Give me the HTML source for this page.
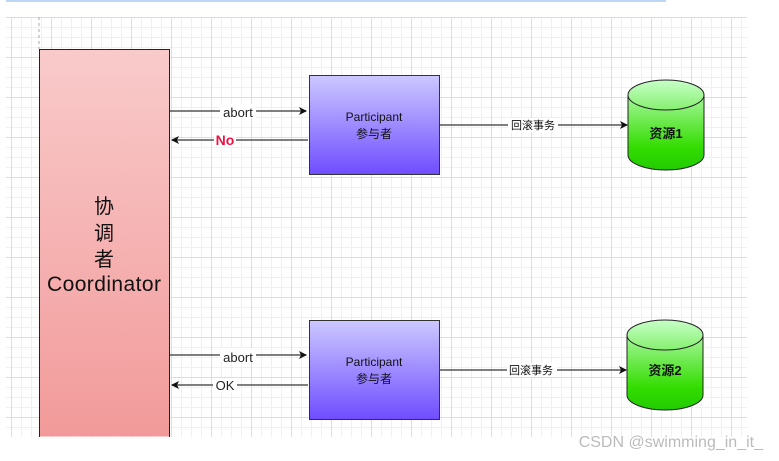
<!DOCTYPE html>
<html><head><meta charset="utf-8"><style>
body{margin:0;width:779px;height:461px;background:#fff;overflow:hidden;position:relative;font-family:"Liberation Sans","Noto Sans CJK SC",sans-serif}
.grid{position:absolute;left:6px;top:17px;width:741px;height:420px;
background-image:linear-gradient(#dedede 1px,transparent 1px),linear-gradient(90deg,#dedede 1px,transparent 1px),linear-gradient(#f0f0f0 1px,transparent 1px),linear-gradient(90deg,#f0f0f0 1px,transparent 1px);
background-size:40px 40px,40px 40px,10px 10px,10px 10px;background-position:5px 0,5px 0,5px 0,5px 0}
</style></head><body>
<div style="position:absolute;left:6px;top:0;width:660px;height:2px;background:#bcd6f5"></div>
<div class="grid"></div>
<svg width="779" height="461" style="position:absolute;left:0;top:0">
<defs>
<linearGradient id="r" x1="0" y1="0" x2="0" y2="1"><stop offset="0" stop-color="#f9caca"/><stop offset="1" stop-color="#f29a9a"/></linearGradient>
<linearGradient id="p" x1="0" y1="0" x2="0" y2="1"><stop offset="0" stop-color="#ccc8ff"/><stop offset="1" stop-color="#6f4dff"/></linearGradient>
<linearGradient id="g" x1="0" y1="0" x2="0" y2="1"><stop offset="0" stop-color="#c8ffc8"/><stop offset="0.75" stop-color="#33dd00"/><stop offset="1" stop-color="#22cc00"/></linearGradient>
<marker id="a" markerWidth="8" markerHeight="8" refX="7" refY="4" orient="auto" markerUnits="userSpaceOnUse"><path d="M0,0 L8,4 L0,8 L2,4z" fill="#111"/></marker>
</defs>
<line x1="39" y1="17" x2="39" y2="49" stroke="#aaa" stroke-dasharray="3,3"/>
<rect x="39.5" y="49.5" width="130" height="387" fill="url(#r)"/>
<path d="M39.5,437 L39.5,49.5 L169.5,49.5 L169.5,437" fill="none" stroke="#222"/>
<text x="104" y="213" font-size="20" text-anchor="middle" fill="#111">协</text>
<text x="104" y="240" font-size="20" text-anchor="middle" fill="#111">调</text>
<text x="104" y="266" font-size="20" text-anchor="middle" fill="#111">者</text>
<text x="104" y="291" font-size="21" text-anchor="middle" fill="#111" textLength="114">Coordinator</text>
<g stroke="#555" stroke-width="1.5" fill="none">
<line x1="170" y1="111" x2="306" y2="111" marker-end="url(#a)"/>
<line x1="308" y1="140" x2="172" y2="140" marker-end="url(#a)"/>
<line x1="170" y1="355" x2="306" y2="355" marker-end="url(#a)"/>
<line x1="308" y1="385" x2="172" y2="385" marker-end="url(#a)"/>
<line x1="440" y1="125" x2="627" y2="125" marker-end="url(#a)"/>
<line x1="440" y1="370" x2="626" y2="370" marker-end="url(#a)"/>
</g>
<rect x="220" y="104" width="36" height="14" fill="#fff"/>
<text x="238" y="117" font-size="13" text-anchor="middle" fill="#222">abort</text>
<rect x="214" y="133" width="22" height="14" fill="#fff"/>
<text x="225" y="145" font-size="14" font-weight="bold" text-anchor="middle" fill="#ee1144">No</text>
<rect x="220" y="348" width="36" height="14" fill="#fff"/>
<text x="238" y="362" font-size="13" text-anchor="middle" fill="#222">abort</text>
<rect x="213" y="378" width="24" height="14" fill="#fff"/>
<text x="225" y="390" font-size="13" text-anchor="middle" fill="#222">OK</text>
<rect x="508" y="118" width="50" height="14" fill="#fff"/>
<text x="533" y="129" font-size="11" text-anchor="middle" fill="#111">回滚事务</text>
<rect x="507" y="363" width="50" height="14" fill="#fff"/>
<text x="531" y="374" font-size="11" text-anchor="middle" fill="#111">回滚事务</text>
<rect x="309.5" y="75.5" width="130" height="99" fill="url(#p)" stroke="#333"/>
<text x="374" y="121" font-size="12" text-anchor="middle" fill="#111">Participant</text>
<text x="374" y="138" font-size="12" text-anchor="middle" fill="#111">参与者</text>
<rect x="309.5" y="320.5" width="130" height="99" fill="url(#p)" stroke="#333"/>
<text x="374" y="366" font-size="12" text-anchor="middle" fill="#111">Participant</text>
<text x="374" y="383" font-size="12" text-anchor="middle" fill="#111">参与者</text>
<g stroke="#222" stroke-width="1">
<path d="M628,95 L628,155 A38,15 0 0 0 704,155 L704,95 A38,15 0 0 0 628,95z" fill="url(#g)"/>
<path d="M628,95 A38,15 0 0 0 704,95" fill="none"/>
<path d="M627,335 L627,395 A38,15 0 0 0 703,395 L703,335 A38,15 0 0 0 627,335z" fill="url(#g)"/>
<path d="M627,335 A38,15 0 0 0 703,335" fill="none"/>
</g>
<text x="666" y="138" font-size="13" font-weight="bold" text-anchor="middle" fill="#111">资源1</text>
<text x="665" y="375" font-size="13" font-weight="bold" text-anchor="middle" fill="#111">资源2</text>
<text x="763" y="447" font-size="16" text-anchor="end" fill="#bbb">CSDN @swimming_in_it_</text>
</svg>
</body></html>
